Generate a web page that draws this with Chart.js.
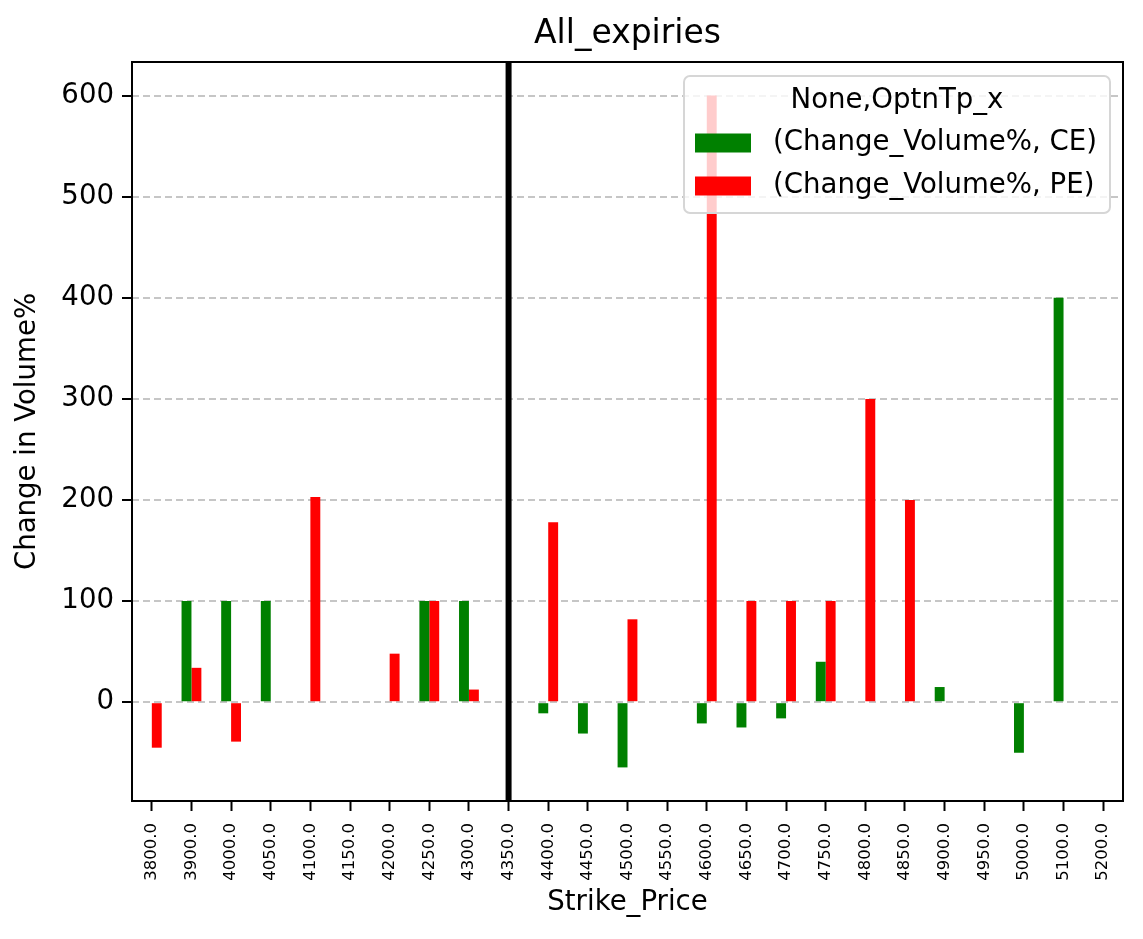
<!DOCTYPE html>
<html>
<head>
<meta charset="utf-8">
<script src="https://cdn.jsdelivr.net/npm/chart.js@4.4.1/dist/chart.umd.min.js"></script>
<style>
  html, body { margin: 0; padding: 0; background: #fff; }
  #wrap { width: 1143px; height: 939px; position: relative; }
</style>
</head>
<body>
<div id="wrap"><canvas id="volChart"></canvas></div>
<script>
// ── Data ─────────────────────────────────────────────────────────────────────
const strikes = [
  "3800.0", "3900.0", "4000.0", "4050.0", "4100.0", "4150.0", "4200.0",
  "4250.0", "4300.0", "4350.0", "4400.0", "4450.0", "4500.0", "4550.0",
  "4600.0", "4650.0", "4700.0", "4750.0", "4800.0", "4850.0", "4900.0",
  "4950.0", "5000.0", "5100.0", "5200.0",
];
const ceChange = [
  null, 100, 100, 100, null, null, null, 100, 100, null, -11, -31, -64.5, null,
  -21, -25, -16, 40, null, null, 15, null, -50, 400, null,
];
const peChange = [
  -45, 34, -39, null, 203, null, 48, 100, 12.5, null, 178, null, 82, null,
  600, 100, 100, 100, 300, 200, null, null, null, null, null,
];
const yTicks      = [0, 100, 200, 300, 400, 500, 600];
const markStrike  = "4350.0";
const chartTitle  = "All_expiries";
const legendTitle = "None,OptnTp_x";
const seriesNames = ["(Change_Volume%, CE)", "(Change_Volume%, PE)"];

// ── Styling ──────────────────────────────────────────────────────────────────
const FONT = "'DejaVu Sans', sans-serif";
const COLORS = { ce: "#008000", pe: "#ff0000", grid: "#c6c6c6", ink: "#000000" };
const SIZE = { title: 33, label: 27.6, tick: 27.6, xtick: 16.5 };

// matplotlib style 5% margins on the value axis
const allVals = ceChange.concat(peChange).filter((v) => v !== null);
const vMin = Math.min(...allVals), vMax = Math.max(...allVals);
const pad  = (vMax - vMin) * 0.05;

// ── Plugin: title over the axes, axvline, spines and an inside legend ────────
const overlay = {
  id: "overlay",
  afterDraw(chart) {
    const { ctx, chartArea: a, scales } = chart;
    ctx.save();

    // title centred over the plot area
    ctx.fillStyle = COLORS.ink;
    ctx.font = SIZE.title + "px " + FONT;
    ctx.textAlign = "center";
    ctx.textBaseline = "middle";
    ctx.fillText(chartTitle, (a.left + a.right) / 2, 34);

    // vertical marker line
    const xm = scales.x.getPixelForValue(strikes.indexOf(markStrike));
    ctx.strokeStyle = COLORS.ink;
    ctx.lineWidth = 6;
    ctx.beginPath();
    ctx.moveTo(xm, a.top);
    ctx.lineTo(xm, a.bottom);
    ctx.stroke();

    // four spines
    ctx.lineWidth = 2;
    ctx.strokeRect(a.left, a.top, a.right - a.left, a.bottom - a.top);

    // legend box
    const w = 426, h = 137;
    const lx = a.right - 13 - w, ly = a.top + 14;
    ctx.fillStyle = "rgba(255,255,255,0.8)";
    ctx.strokeStyle = "#d6d6d6";
    ctx.lineWidth = 2;
    ctx.beginPath();
    ctx.roundRect(lx, ly, w, h, 6);
    ctx.fill();
    ctx.stroke();

    ctx.fillStyle = COLORS.ink;
    ctx.font = SIZE.label + "px " + FONT;
    ctx.textAlign = "center";
    ctx.fillText(legendTitle, lx + w / 2, ly + 25);

    ctx.textAlign = "left";
    chart.data.datasets.forEach((ds, i) => {
      const rowY = ly + 67 + i * 43;
      ctx.fillStyle = ds.backgroundColor;
      ctx.fillRect(lx + 11, rowY - 9.5, 56, 19);
      ctx.fillStyle = COLORS.ink;
      ctx.fillText(ds.label, lx + 89, rowY);
    });

    ctx.restore();
  },
};

// ── Chart ────────────────────────────────────────────────────────────────────
const ctx = document.getElementById("volChart").getContext("2d");
new Chart(ctx, {
  type: "bar",
  data: {
    labels: strikes,
    datasets: [
      { label: seriesNames[0], data: ceChange, backgroundColor: COLORS.ce },
      { label: seriesNames[1], data: peChange, backgroundColor: COLORS.pe },
    ],
  },
  options: {
    responsive: true,
    maintainAspectRatio: false,
    animation: false,
    categoryPercentage: 0.5,
    barPercentage: 1.0,
    layout: { padding: { left: 0, right: 20, top: 62, bottom: 0 } },
    plugins: {
      legend: { display: false },
      tooltip: { enabled: false },
      title: { display: false },
    },
    scales: {
      x: {
        offset: true,
        grid: {
          offset: false,
          drawOnChartArea: false,
          drawTicks: true,
          tickLength: 10,
          tickColor: COLORS.ink,
          tickWidth: 2,
        },
        border: { display: false },
        ticks: {
          autoSkip: false,
          minRotation: 90,
          maxRotation: 90,
          padding: 12,
          color: COLORS.ink,
          font: { family: FONT, size: SIZE.xtick },
        },
        title: {
          display: true,
          text: "Strike_Price",
          color: COLORS.ink,
          font: { family: FONT, size: SIZE.label, lineHeight: 1.2 },
          padding: { top: 0, bottom: 20 },
        },
        afterFit: (scale) => { scale.height = 138; },
      },
      y: {
        min: vMin - pad,
        max: vMax + pad,
        z: 1,
        grid: {
          color: COLORS.grid,
          lineWidth: 2,
          drawTicks: true,
          tickLength: 10,
          tickColor: COLORS.ink,
          tickWidth: 2,
          tickBorderDash: [],
        },
        border: { display: false, dash: [7, 4] },
        ticks: {
          padding: 8,
          color: COLORS.ink,
          font: { family: FONT, size: SIZE.tick },
        },
        afterBuildTicks: (scale) => {
          scale.ticks = yTicks.map((v) => ({ value: v }));
        },
        title: {
          display: true,
          text: "Change in Volume%",
          color: COLORS.ink,
          font: { family: FONT, size: SIZE.label, lineHeight: 1.2 },
          padding: { top: 11, bottom: 0 },
        },
        afterFit: (scale) => { scale.width = 132; },
      },
    },
  },
  plugins: [overlay],
});
</script>
</body>
</html>
